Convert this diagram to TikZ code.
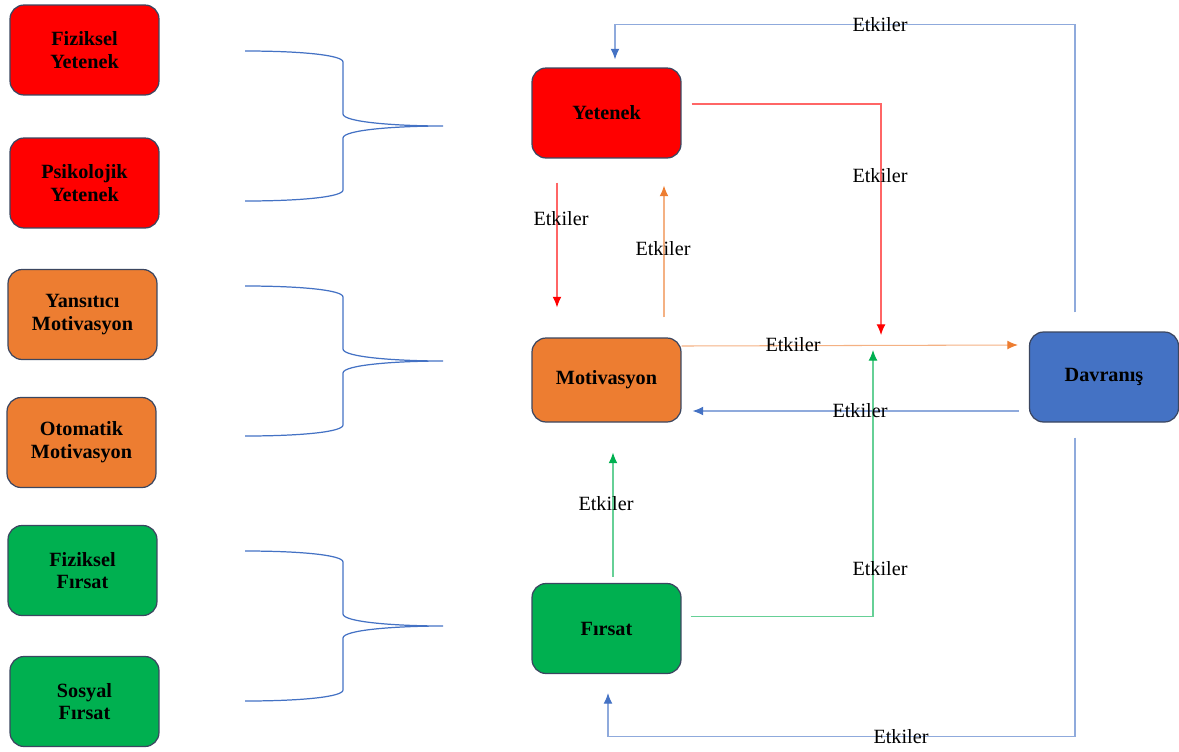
\documentclass[tikz,border=0pt]{standalone}
\usepackage{fontspec}
\setmainfont{Liberation Serif}
\usepackage{tikz}
\usetikzlibrary{calc,arrows.meta}

\definecolor{kirmizi}{HTML}{FF0000}
\definecolor{turuncu}{HTML}{ED7D31}
\definecolor{yesil}{HTML}{00B050}
\definecolor{mavi}{HTML}{4472C4}
\definecolor{kenar}{HTML}{3B4660}

\tikzset{
    kutu/.style={rectangle, rounded corners=8pt, draw=kenar, line width=0.7pt,
        minimum width=2.98cm, minimum height=1.8cm, align=center,
        font=\bfseries\fontsize{11.5}{13}\selectfont},
    etki/.style={-{Latex[length=6pt,width=5pt,color=#1]}, draw=#1!60, line width=0.6pt},
    etkiyazi/.style={inner sep=0pt, font=\fontsize{11.5}{13}\selectfont},
    parantez/.style={mavi, line width=0.7pt}
}

\begin{document}
\begin{tikzpicture}[x=0.02cm, y=-0.02cm]
                \useasboundingbox (0,0) rectangle (1179,751);
                % alt faktorler
                \node[kutu, fill=kirmizi] (fy) at (84.5,50) {Fiziksel\\Yetenek};
                \node[kutu, fill=kirmizi] (py) at (84.5,183) {Psikolojik\\Yetenek};
                \node[kutu, fill=turuncu] (ym) at (82.5,314.5) {Yansıtıcı\\Motivasyon};
                \node[kutu, fill=turuncu] (om) at (81.5,442.5) {Otomatik\\Motivasyon};
                \node[kutu, fill=yesil] (ff) at (82.5,570.5) {Fiziksel\\Fırsat};
                \node[kutu, fill=yesil] (sf) at (84.5,701.5) {Sosyal\\Fırsat};
                % ana faktorler
                \node[kutu, fill=kirmizi] (yet) at (606.5,113) {Yetenek};
                \node[kutu, fill=turuncu, minimum height=1.68cm] (mot) at (606.5,380) {Motivasyon};
                \node[kutu, fill=yesil] (fir) at (606.5,628.5) {Fırsat};
                \node[kutu, fill=mavi] (dav) at (1104,377) {Davranış};
                \coordinate (hedef) at (877,345);
                % parantezler
                \foreach \m in {126,361,626}
                    \draw[parantez] (245,\m-75) .. controls (300,\m-75) and (343,\m-71) .. (343,\m-64)
                        -- (343,\m-12) .. controls (343,\m-4) and (395,\m) .. (443,\m)
                        .. controls (395,\m) and (343,\m+4) .. (343,\m+12)
                        -- (343,\m+64) .. controls (343,\m+71) and (300,\m+75) .. (245,\m+75);
                % oklar
                \draw[etki=mavi] ($(dav.north)+(-29,-19)$) -- ++(0,-288) -| ($(yet.north)+(8.5,-8)$);
                \draw[etki=kirmizi] ($(yet.east)+(10,-9)$) -| ($(hedef)+(4,-10)$);
                \draw[etki=kirmizi] ($(yet.south)+(-49.5,24)$) -- ($(mot.north)+(-49.5,-30)$);
                \draw[etki=turuncu] ($(mot.north)+(57.5,-20)$) -- ($(yet.south)+(57.5,27)$);
                \draw[etki=turuncu] ($(mot.east)+(0,-34)$) -- ($(dav.west)+(-11,-32)$);
                \draw[etki=mavi] ($(dav.west)+(-10,34)$) -- ($(mot.east)+(11,31)$);
                \draw[etki=yesil] ($(fir.north)+(6.5,-6)$) -- ($(mot.south)+(6.5,30)$);
                \draw[etki=yesil] ($(fir.east)+(9,-12)$) -| ($(hedef)+(-4,5)$);
                \draw[etki=mavi] ($(dav.south)+(-29,15)$) -- ++(0,299) -| ($(fir.south)+(1.5,19)$);
                % etiketler
                \node[etkiyazi] (e1) at (880,25) {Etkiler};
                \node[etkiyazi] (e2) at (880,176) {Etkiler};
                \node[etkiyazi] (e3) at (561,219) {Etkiler};
                \node[etkiyazi] (e4) at (663,249) {Etkiler};
                \node[etkiyazi] (e5) at (793,345) {Etkiler};
                \node[etkiyazi] (e6) at (860,411) {Etkiler};
                \node[etkiyazi] (e7) at (606,504) {Etkiler};
                \node[etkiyazi] (e8) at (880,569) {Etkiler};
                \node[etkiyazi] (e9) at (901,737) {Etkiler};
\end{tikzpicture}
\end{document}
